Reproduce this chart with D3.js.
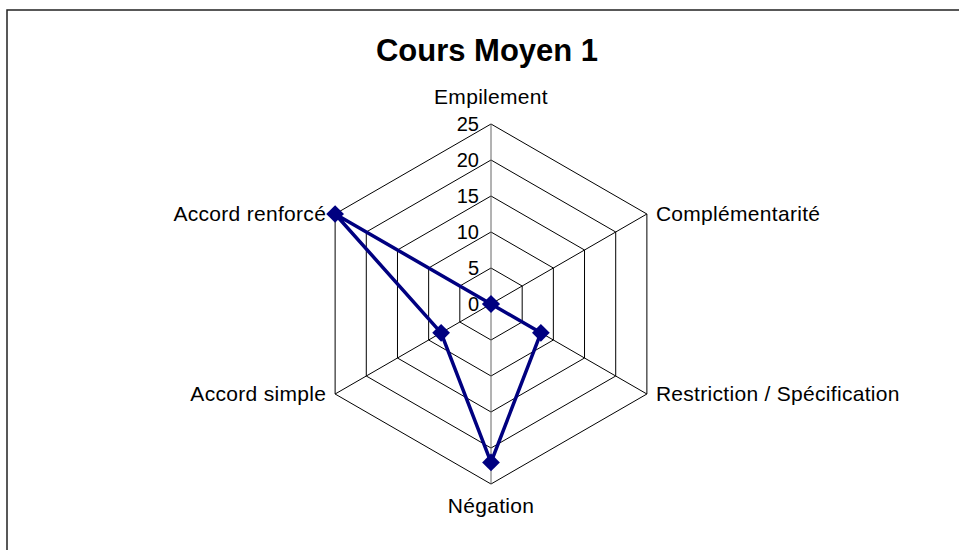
<!DOCTYPE html>
<html>
<head>
<meta charset="utf-8">
<script src="https://cdn.jsdelivr.net/npm/d3@7"></script>
<style>
    body { margin: 0; background: #fff; }
    text { font-family: "Liberation Sans", Arial, sans-serif; fill: #000; }
</style>
</head>
<body>
<div id="chart"></div>
<script>
// chart data
const chartTitle = 'Cours Moyen 1';
const categories = ['Empilement', 'Complémentarité', 'Restriction / Spécification', 'Négation', 'Accord simple', 'Accord renforcé'];
const values = [0, 0, 8, 22, 8, 25];
const tickValues = [0, 5, 10, 15, 20, 25];

function radarChartD3() {
    let width = 959,
        height = 550,
        center = [491, 304],
        radius = 180,
        lineColor = '#000080';

    function chart(selection) {
        selection.each(function () {
            const svg = d3.select(this).append('svg')
                .attr('width', width)
                .attr('height', height);

            // outer frame (right / bottom edges fall outside the picture)
            svg.append('rect')
                .attr('x', 7)
                .attr('y', 10)
                .attr('width', width + 20)
                .attr('height', height + 20)
                .attr('fill', 'none')
                .attr('stroke', '#222')
                .attr('stroke-width', 1.5);

            svg.append('text')
                .attr('x', 487)
                .attr('y', 61)
                .attr('text-anchor', 'middle')
                .style('font-size', '31px')
                .style('font-weight', 'bold')
                .text(chartTitle);

            const rScale = d3.scaleLinear()
                .domain([0, d3.max(tickValues)])
                .range([0, radius]);

            const angle = i => i * 2 * Math.PI / categories.length;
            const point = (i, v) => [Math.sin(angle(i)) * rScale(v), -Math.cos(angle(i)) * rScale(v)];

            const g = svg.append('g')
                .attr('transform', `translate(${center[0]},${center[1]})`);

            // grid rings
            g.selectAll('.ring')
                .data(tickValues.filter(d => d > 0))
                .enter()
                .append('polygon')
                .attr('class', 'ring')
                .attr('points', d => categories.map((c, i) => point(i, d).join(',')).join(' '))
                .attr('fill', 'none')
                .attr('stroke', '#000')
                .attr('stroke-width', 1);

            // spokes (vertical one renders grey in the original)
            g.selectAll('.spoke')
                .data(categories)
                .enter()
                .append('line')
                .attr('class', 'spoke')
                .attr('x1', 0)
                .attr('y1', 0)
                .attr('x2', (d, i) => point(i, d3.max(tickValues))[0])
                .attr('y2', (d, i) => point(i, d3.max(tickValues))[1])
                .attr('stroke', (d, i) => i % 3 === 0 ? '#666' : '#000')
                .attr('stroke-width', 1);

            // value axis labels
            g.selectAll('.tick-label')
                .data(tickValues)
                .enter()
                .append('text')
                .attr('class', 'tick-label')
                .attr('x', -12)
                .attr('y', d => -rScale(d))
                .attr('dy', '0.35em')
                .attr('text-anchor', 'end')
                .style('font-size', '20px')
                .text(d => d);

            // category labels
            g.selectAll('.cat-label')
                .data(categories)
                .enter()
                .append('text')
                .attr('class', 'cat-label')
                .attr('x', (d, i) => {
                    const [x] = point(i, d3.max(tickValues));
                    return Math.abs(x) < 1 ? x : x + Math.sign(x) * 9;
                })
                .attr('y', (d, i) => {
                    const [, y] = point(i, d3.max(tickValues));
                    if (i === 0) return y - 20;
                    if (i === 3) return y + 29;
                    return y + 7;
                })
                .attr('text-anchor', (d, i) => {
                    const [x] = point(i, d3.max(tickValues));
                    return Math.abs(x) < 1 ? 'middle' : (x > 0 ? 'start' : 'end');
                })
                .style('font-size', '21px')
                .style('letter-spacing', '0.3px')
                .text(d => d);

            // series line
            const line = d3.lineRadial()
                .angle((d, i) => angle(i))
                .radius(d => rScale(d))
                .curve(d3.curveLinearClosed);

            g.append('path')
                .datum(values)
                .attr('d', line)
                .attr('fill', 'none')
                .attr('stroke', lineColor)
                .attr('stroke-width', 3.5)
                .attr('stroke-linejoin', 'round');

            g.selectAll('.marker')
                .data(values)
                .enter()
                .append('path')
                .attr('class', 'marker')
                .attr('d', d3.symbol().type(d3.symbolDiamond2).size(200))
                .attr('transform', (d, i) => `translate(${point(i, d)})`)
                .attr('fill', lineColor);
        });
    }

    chart.width = function (value) {
        if (!arguments.length) return width;
        width = value;
        return chart;
    };

    chart.height = function (value) {
        if (!arguments.length) return height;
        height = value;
        return chart;
    };

    return chart;
}

d3.select('#chart').call(radarChartD3());
</script>
</body>
</html>
